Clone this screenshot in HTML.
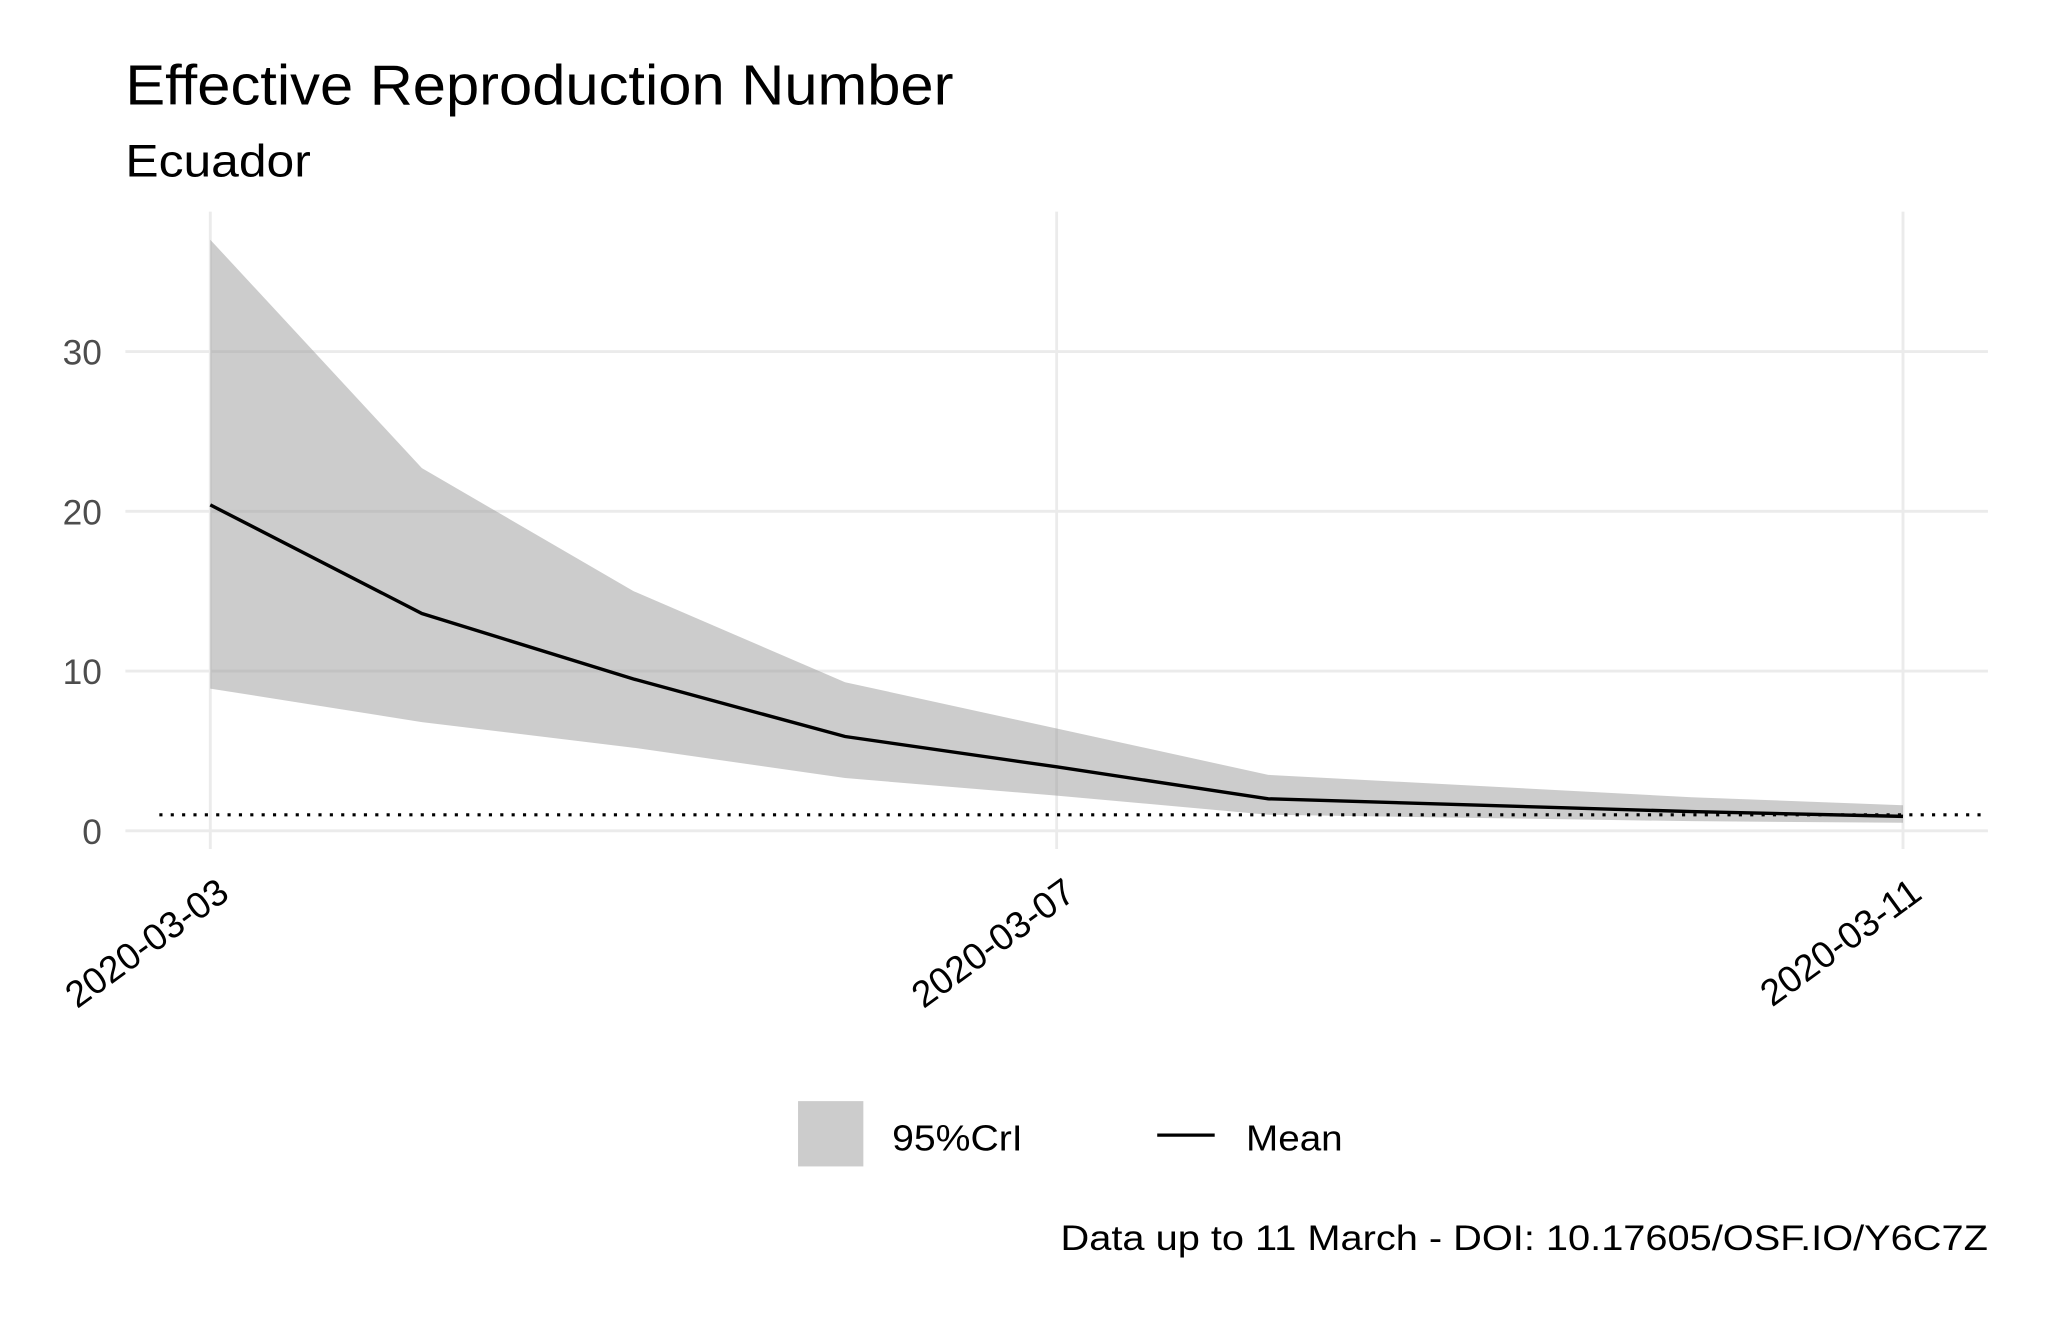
<!DOCTYPE html>
<html><head><meta charset="utf-8"><style>
html,body{margin:0;padding:0;background:#fff;}
svg{display:block;font-family:"Liberation Sans",Arial,sans-serif;}
</style></head><body>
<svg id="chart" width="2048" height="1318" viewBox="0 0 1568 1009" xmlns="http://www.w3.org/2000/svg">
<text x="96" y="80" font-size="43" fill="#000" textLength="634" lengthAdjust="spacingAndGlyphs">Effective Reproduction Number</text>
<text x="96" y="135" font-size="35" fill="#000" textLength="142" lengthAdjust="spacingAndGlyphs">Ecuador</text>
<g id="grid"></g>
<g id="marks"></g>
<g id="axes"></g>
<g>
<rect x="611" y="843" width="50" height="50" fill="#cccccc"/>
<text x="683" y="881" font-size="28" fill="#000" textLength="100" lengthAdjust="spacingAndGlyphs">95%CrI</text>
<line x1="886" y1="869" x2="930" y2="869" stroke="#000" stroke-width="2.5"/>
<text x="954" y="881" font-size="28" fill="#000" textLength="74" lengthAdjust="spacingAndGlyphs">Mean</text>
</g>
<text x="1522" y="957" font-size="27" fill="#000" text-anchor="end" textLength="710" lengthAdjust="spacingAndGlyphs">Data up to 11 March - DOI: 10.17605/OSF.IO/Y6C7Z</text>
</svg>
<script>
const days = ["2020-03-03","2020-03-04","2020-03-05","2020-03-06","2020-03-07","2020-03-08","2020-03-09","2020-03-10","2020-03-11"];
const meanValues = [20.4, 13.6, 9.5, 5.9, 4.0, 2.0, 1.6, 1.2, 0.9];
const upperValues = [37.0, 22.7, 15.0, 9.3, 6.4, 3.5, 2.8, 2.1, 1.6];
const lowerValues = [8.9, 6.8, 5.2, 3.3, 2.2, 1.0, 0.8, 0.6, 0.5];
const yTicks = [0, 10, 20, 30];
const xTickLabels = ["2020-03-03", "2020-03-07", "2020-03-11"];
const thresholdValue = 1;

const NS = "http://www.w3.org/2000/svg";
const PL = 96, PR = 1522, PT = 162, PB = 650;
function xs(i){ return 161 + (1457 - 161) * i / (days.length - 1); }
function ys(v){ return 636 - v * 12.23; }
function mk(tag, attrs, parent){ const e = document.createElementNS(NS, tag); for (const k in attrs) e.setAttribute(k, attrs[k]); parent.appendChild(e); return e; }
const grid = document.getElementById('grid'), marks = document.getElementById('marks'), axes = document.getElementById('axes');

yTicks.forEach(t => {
  const l = mk('line', {x1: PL, x2: PR, y1: ys(t), y2: ys(t), stroke: '#ebebeb', 'stroke-width': 2.2}, grid);
  
  
  const tx = mk('text', {x: 78, y: ys(t) + 10, 'font-size': 27, fill: '#4d4d4d', 'text-anchor': 'end'}, axes);
  tx.textContent = t;
  
  
});
xTickLabels.forEach(lbl => {
  const i = days.indexOf(lbl);
  const x = xs(i);
  const l = mk('line', {x1: x, x2: x, y1: PT, y2: PB, stroke: '#ebebeb', 'stroke-width': 2.2}, grid);
  
  
  const tx = mk('text', {x: 0, y: 0, 'font-size': 28.5, fill: '#000', 'text-anchor': 'end', transform: `translate(${x + 16},${PB + 37}) rotate(-36)`}, axes);
  tx.textContent = lbl;
  
  
});

let d = upperValues.map((v, i) => (i ? 'L' : 'M') + xs(i) + ',' + ys(v)).join(' ');
for (let i = lowerValues.length - 1; i >= 0; i--) d += ' L' + xs(i) + ',' + ys(lowerValues[i]);
const band = mk('path', {d: d + ' Z', fill: '#999999', 'fill-opacity': 0.5}, marks);



const th = mk('line', {x1: PL + 26, x2: PR, y1: ys(thresholdValue), y2: ys(thresholdValue), stroke: '#000', 'stroke-width': 2.4, 'stroke-dasharray': '2.4,6.3'}, marks);



const md = meanValues.map((v, i) => (i ? 'L' : 'M') + xs(i) + ',' + ys(v)).join(' ');
const ml = mk('path', {d: md, fill: 'none', stroke: '#000', 'stroke-width': 2.6}, marks);


</script>
</body></html>
